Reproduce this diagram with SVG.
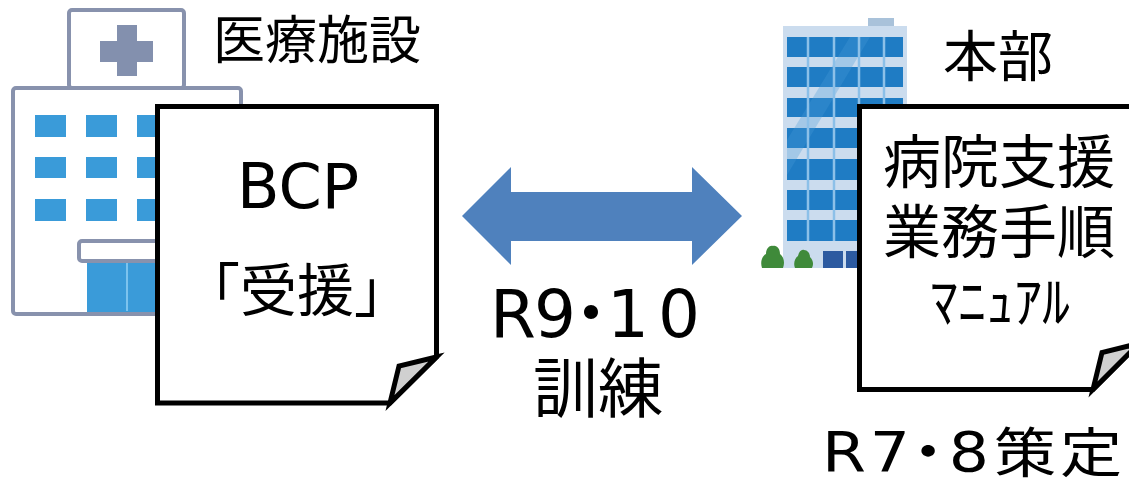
<svg xmlns="http://www.w3.org/2000/svg" width="1129" height="489" viewBox="0 0 1129 489">
  <style>
    .t { font-family: "Noto Sans CJK JP", "Noto Sans", sans-serif; fill: #000; text-anchor: middle; }
    .lat { font-family: "DejaVu Sans", "Noto Sans CJK JP", sans-serif; fill: #000; text-anchor: middle; }
    .frame { fill: #fff; stroke: #8892ad; stroke-width: 4; }
    .win { fill: #3a9bd9; }
    .hqwin { fill: #1f7cc4; }
    .doc { fill: #fff; stroke: #000; stroke-width: 5; stroke-linejoin: miter; }
    .flap { fill: #d0d0d0; stroke: #000; stroke-width: 5; stroke-linejoin: miter; }
  </style>

  <!-- Hospital building -->
  <g id="hospital">
    <rect class="frame" x="69" y="10" width="115" height="78" rx="3"/>
    <rect x="117" y="25" width="20" height="51" fill="#8390ae"/>
    <rect x="100" y="41" width="53" height="21" fill="#8390ae"/>
    <rect class="frame" x="13" y="88" width="228" height="226" rx="3"/>
    <g>
      <rect class="win" x="35" y="115" width="31" height="22"/>
      <rect class="win" x="86" y="115" width="31" height="22"/>
      <rect class="win" x="137" y="115" width="31" height="22"/>
      <rect class="win" x="188" y="115" width="31" height="22"/>
      <rect class="win" x="35" y="157" width="31" height="21"/>
      <rect class="win" x="86" y="157" width="31" height="21"/>
      <rect class="win" x="137" y="157" width="31" height="21"/>
      <rect class="win" x="188" y="157" width="31" height="21"/>
      <rect class="win" x="35" y="199" width="31" height="22"/>
      <rect class="win" x="86" y="199" width="31" height="22"/>
      <rect class="win" x="137" y="199" width="31" height="22"/>
      <rect class="win" x="188" y="199" width="31" height="22"/>
    </g>
    <rect class="win" x="87" y="261" width="120" height="51"/>
    <line x1="127" y1="262" x2="127" y2="311" stroke="#7cc3ee" stroke-width="2"/>
    <rect class="frame" x="79" y="241" width="140" height="20" rx="3"/>
  </g>

  <!-- Head office tower -->
  <g id="head-office">
    <rect x="868" y="18" width="26" height="9" fill="#a9c2da"/>
    <rect x="783" y="26" width="124" height="242" fill="#cbdcee"/>
    <g>
      <rect class="hqwin" x="787" y="37" width="116" height="20"/>
      <rect class="hqwin" x="787" y="67" width="116" height="20"/>
      <rect class="hqwin" x="787" y="98" width="116" height="19"/>
      <rect class="hqwin" x="787" y="128" width="116" height="20"/>
      <rect class="hqwin" x="787" y="159" width="116" height="21"/>
      <rect class="hqwin" x="787" y="190" width="116" height="20"/>
      <rect class="hqwin" x="787" y="220" width="116" height="21"/>
    </g>
    <!-- glare across the glass -->
    <polygon points="787,140 850,37 870,37 787,175" fill="#4a9ad6" opacity="0.3"/>
    <g stroke="#8cc0e8" stroke-width="2.5">
      <line x1="808" y1="37" x2="808" y2="241"/>
      <line x1="834" y1="37" x2="834" y2="241"/>
      <line x1="859" y1="37" x2="859" y2="241"/>
      <line x1="884" y1="37" x2="884" y2="241"/>
    </g>
    <rect x="823" y="251" width="20" height="17" fill="#2c5aa0"/>
    <rect x="846" y="251" width="20" height="17" fill="#2c5aa0"/>
    <!-- shrubs at the foot of the tower -->
    <g fill="#3f8a3a">
      <path d="M762,268 C760,262 762,256 766,254 C766,248 770,245 773,246 C777,245 780,249 780,254 C784,257 785,263 783,268 Z"/>
      <path d="M795,268 C793,263 795,258 798,256 C799,251 802,249 804,250 C808,250 810,254 810,257 C813,260 814,264 812,268 Z"/>
    </g>
  </g>

  <!-- Connectors -->
  <g id="connectors">
    <polygon points="462,216 511,167 511,192 692,192 692,167 742,216 692,265 692,241 511,241 511,265" fill="#4f81bd"/>
  </g>

  <!-- BCP document -->
  <g id="doc-bcp">
    <path class="doc" d="M157.5,106.5 H436.5 V357 L390,403 H157.5 Z"/>
    <polygon class="flap" points="436.5,357 399,366 390,403"/>
    <text class="lat" x="298" y="208" font-size="62">BCP</text>
    <text class="t" x="297" y="311" font-size="57">「受援」</text>
  </g>

  <!-- Manual document -->
  <g id="doc-manual">
    <path class="doc" d="M859.5,106.5 H1139 V343.5 L1093,389.5 H859.5 Z"/>
    <polygon class="flap" points="1139,343.5 1102,352.5 1093,389.5"/>
    <text class="t" x="999" y="183" font-size="58">病院支援</text>
    <text class="t" x="999" y="253" font-size="58">業務手順</text>
    <text class="t" x="1000" y="322" font-size="56">ﾏﾆｭｱﾙ</text>
  </g>

  <!-- Labels -->
  <g id="labels">
    <text class="t" x="317" y="59" font-size="52">医療施設</text>
    <text class="t" x="998" y="76" font-size="55">本部</text>
    <text class="lat" x="513 555 591 628 679" y="337" font-size="66">R9・10</text>
    <text class="t" x="598" y="412" font-size="65">訓練</text>
    <!-- widened run: x values are in the scaled frame (target / 1.15) -->
    <text class="lat" transform="matrix(1.15 0 0 1 0 0)" y="471" font-size="55"><tspan x="733.9">R</tspan><tspan x="773.9">7</tspan><tspan x="807">・</tspan><tspan x="842.6">8</tspan><tspan class="t" x="891.3" y="473" font-size="54">策</tspan><tspan class="t" x="948.7" font-size="54">定</tspan></text>
  </g>
</svg>
